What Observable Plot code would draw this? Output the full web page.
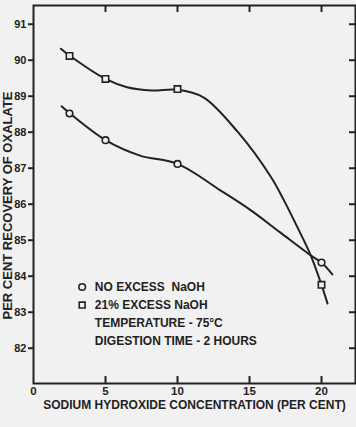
<!DOCTYPE html>
<html>
<head>
<meta charset="utf-8">
<script src="https://cdn.jsdelivr.net/npm/d3@7"></script>
<script src="https://cdn.jsdelivr.net/npm/@observablehq/plot@0.6"></script>
<style>
  html, body { margin: 0; padding: 0; background: #f1f1f1; }
  #chart svg { display: block; }
</style>
</head>
<body>
<div id="chart"></div>
<script>
// Data
const xTicks = [0, 5, 10, 15, 20];
const yTicks = [82, 83, 84, 85, 86, 87, 88, 89, 90, 91];

// measured points
const noExcessX = [2.5, 5, 10, 20];
const noExcessY = [88.52, 87.78, 87.12, 84.38];
const excessX = [2.5, 5, 10, 20];
const excessY = [90.12, 89.48, 89.2, 83.76];

// hand-drawn curves
const noExcessCurveX = [1.95, 2.5, 5, 7.4, 10, 13, 15.1, 17.15, 19.25, 20, 20.75];
const noExcessCurveY = [88.72, 88.53, 87.78, 87.35, 87.12, 86.38, 85.83, 85.21, 84.58, 84.38, 84.05];
const excessCurveX = [1.9, 2.5, 5, 6.5, 8.2, 10, 11.8, 14.2, 16.5, 17.4, 18.4, 19.25, 20, 20.42];
const excessCurveY = [90.32, 90.13, 89.48, 89.25, 89.16, 89.18, 88.97, 88.0, 86.75, 86.1, 85.3, 84.58, 83.76, 83.24];

const legendLabels = ["NO EXCESS  NaOH", "21% EXCESS NaOH", "TEMPERATURE - 75°C", "DIGESTION TIME - 2 HOURS"];
const legendSymbols = ["circle", "square"];

const xLabel = "SODIUM HYDROXIDE CONCENTRATION (PER CENT)";
const yLabel = "PER CENT RECOVERY OF OXALATE";

const ink = "#222";
const bg = "#f1f1f1";
const font = "'Liberation Sans', Arial, sans-serif";

const zip = (xs, ys) => xs.map((x, i) => ({x, y: ys[i]}));

const chart = Plot.plot({
  width: 356,
  height: 427,
  marginLeft: 33,
  marginRight: 1,
  marginTop: 5,
  marginBottom: 44,
  x: {domain: [0, 22.36]},
  y: {domain: [81.02, 91.52]},
  style: {background: bg, color: ink, fontFamily: font, fontSize: "11px", fontWeight: "bold"},
  marks: [
    Plot.axisX(xTicks, {tickSize: 0, tickPadding: 3, label: null, fontWeight: "bold", fontSize: 11.5}),
    Plot.axisY(yTicks, {tickSize: 5, tickPadding: 2, label: null, strokeWidth: 2, fontWeight: "bold", fontSize: 11}),
    Plot.tickX(xTicks.filter(d => d > 0), {x: d => d, insetTop: 371, stroke: ink, strokeWidth: 2}),
    Plot.tickX(xTicks.filter(d => d > 0), {x: d => d, insetBottom: 371, stroke: ink, strokeWidth: 2}),
    Plot.tickY(yTicks, {y: d => d, insetLeft: 316, stroke: ink, strokeWidth: 2}),
    Plot.frame({stroke: ink, strokeWidth: 2}),
    Plot.line(zip(noExcessCurveX, noExcessCurveY), {x: "x", y: "y", curve: "catmull-rom", stroke: ink, strokeWidth: 2}),
    Plot.line(zip(excessCurveX, excessCurveY), {x: "x", y: "y", curve: "catmull-rom", stroke: ink, strokeWidth: 2}),
    Plot.dot(zip(noExcessX, noExcessY), {x: "x", y: "y", symbol: "circle", r: 3.3, fill: bg, stroke: ink, strokeWidth: 1.6}),
    Plot.dot(zip(excessX, excessY), {x: "x", y: "y", symbol: "square", r: 3.6, fill: bg, stroke: ink, strokeWidth: 1.6}),
    // legend
    Plot.dot(legendSymbols, {x: 3.38, y: (d, i) => 83.7 - 0.5 * i, symbol: d => d, r: 3.3, fill: bg, stroke: ink, strokeWidth: 1.6}),
    Plot.text(legendLabels, {x: 4.26, y: (d, i) => 83.7 - 0.5 * i, text: d => d, textAnchor: "start", fontSize: 12, fontWeight: "bold", fill: ink}),
    // axis titles
    Plot.text([xLabel], {frameAnchor: "bottom", dy: 25, text: d => d, textAnchor: "middle", fontSize: 12, fontWeight: "bold", fill: ink}),
    Plot.text([yLabel], {frameAnchor: "left", dx: -26, dy: 11, rotate: -90, text: d => d, textAnchor: "middle", fontSize: 13, fontWeight: "bold", fill: ink})
  ]
});
document.getElementById("chart").append(chart);
</script>
</body>
</html>
